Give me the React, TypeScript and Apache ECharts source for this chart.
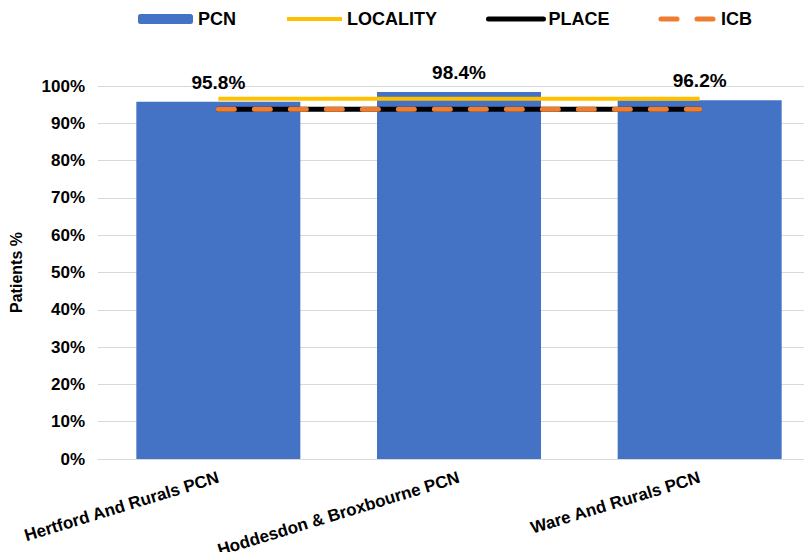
import React, { useEffect, useRef } from "react";
import * as echarts from "echarts";

// Categories and values (percent of patients)
const categories = ["Hertford And Rurals PCN", "Hoddesdon & Broxbourne PCN", "Ware And Rurals PCN"];
const pcnValues = [95.8, 98.4, 96.2];
const localityValues = [96.6, 96.6, 96.6];
const placeValues = [93.8, 93.8, 93.8];
const icbValues = [93.8, 93.8, 93.8];
const yTicks = { min: 0, max: 100, interval: 10 };

const FONT = "'Liberation Sans', Arial, sans-serif";

// Legend entry for a line series: thick line only, no marker
const lineLegend = (name: string, width: number) => ({
  name,
  itemStyle: { opacity: 0 },
  lineStyle: { width },
});

export default function App() {
  const ref = useRef<HTMLDivElement>(null);

  useEffect(() => {
    if (!ref.current) return;
    const chart = echarts.init(ref.current, null, { renderer: "svg" });
    chart.setOption({
      animation: false,
      textStyle: { fontFamily: FONT },
      legend: {
        left: 133,
        top: 5,
        itemWidth: 55,
        itemHeight: 10,
        itemGap: 49,
        textStyle: { fontFamily: FONT, fontSize: 18, fontWeight: "bold", color: "#000" },
        data: [
          { name: "PCN" },
          lineLegend("LOCALITY", 4),
          lineLegend("PLACE", 5),
          lineLegend("ICB", 5),
        ],
      },
      // the plot area runs a little past the right edge of the visible frame
      grid: { left: 81, top: 86, width: 739, bottom: 101, containLabel: false },
      xAxis: {
        type: "category",
        data: categories,
        axisLine: { show: true, lineStyle: { color: "#d9d9d9", width: 1 } },
        axisTick: { show: false },
        axisLabel: {
          rotate: 17,
          interval: 0,
          margin: 18,
          fontFamily: FONT,
          fontSize: 17,
          fontWeight: "bold",
          color: "#000",
        },
      },
      yAxis: {
        type: "value",
        min: yTicks.min,
        max: yTicks.max,
        interval: yTicks.interval,
        name: "Patients %",
        nameLocation: "middle",
        nameRotate: 90,
        nameGap: 74,
        nameTextStyle: { fontFamily: FONT, fontSize: 16, fontWeight: "bold", color: "#000" },
        axisLine: { show: false },
        axisTick: { show: false },
        splitLine: { lineStyle: { color: "#d9d9d9", width: 1 } },
        axisLabel: {
          formatter: "{value}%",
          margin: 13,
          fontFamily: FONT,
          fontSize: 17,
          fontWeight: "bold",
          color: "#000",
        },
      },
      series: [
        {
          name: "PCN",
          type: "bar",
          data: pcnValues,
          barWidth: 164,
          itemStyle: { color: "#4472C4" },
          label: {
            show: true,
            position: "top",
            distance: 10,
            formatter: (p: any) => `${Number(p.value).toFixed(1)}%`,
            fontFamily: FONT,
            fontSize: 19,
            fontWeight: "bold",
            color: "#000",
          },
        },
        {
          name: "LOCALITY",
          type: "line",
          data: localityValues,
          symbol: "none",
          itemStyle: { color: "#FFC000" },
          lineStyle: { color: "#FFC000", width: 4 },
        },
        {
          name: "PLACE",
          type: "line",
          data: placeValues,
          symbol: "none",
          itemStyle: { color: "#000000" },
          lineStyle: { color: "#000000", width: 5, cap: "round" },
        },
        {
          name: "ICB",
          type: "line",
          data: icbValues,
          symbol: "none",
          itemStyle: { color: "#ED7D31" },
          lineStyle: { color: "#ED7D31", width: 5, type: [16, 20], cap: "round" },
        },
      ],
    });
    return () => chart.dispose();
  }, []);

  return (
    <div style={{ width: 812, height: 560, margin: -8, overflow: "hidden", position: "relative" }}>
      <div ref={ref} style={{ width: 830, height: 560 }} />
    </div>
  );
}
